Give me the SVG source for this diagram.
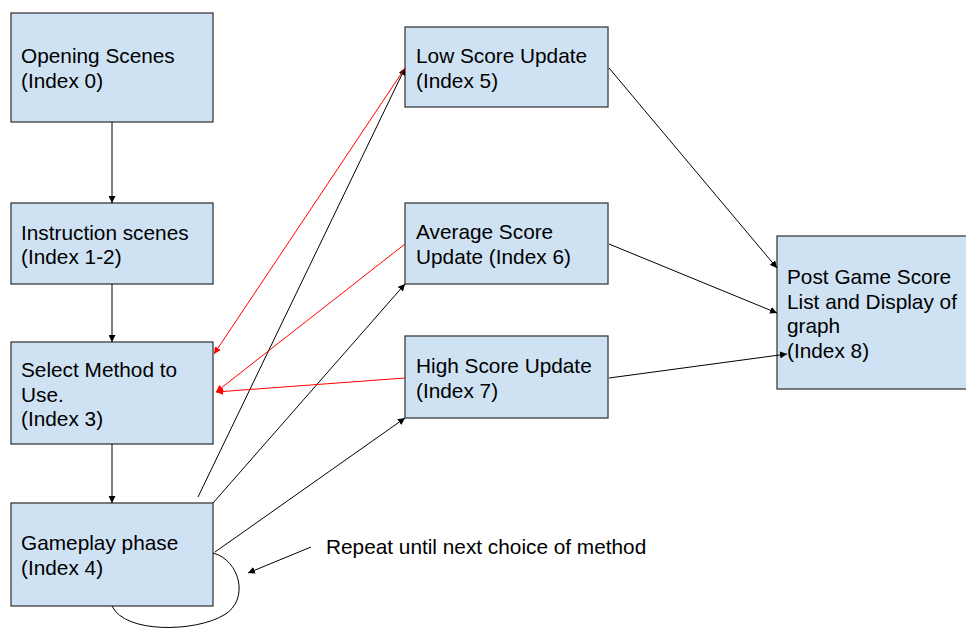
<svg xmlns="http://www.w3.org/2000/svg" width="966" height="629" viewBox="0 0 966 629">
  <style>
    .box rect { fill: #cfe2f3; stroke: #3c3c3c; stroke-width: 1.3; }
    text { font-family: "Liberation Sans", Arial, sans-serif; font-size: 20.8px; fill: #000; }
    .edge { fill: none; stroke: #000; stroke-width: 1; }
    .red { fill: none; stroke: #ff0000; stroke-width: 1; }
  </style>
  <defs>
    <marker id="arrow" viewBox="0 0 10 10" refX="10" refY="5" markerWidth="7" markerHeight="7" markerUnits="userSpaceOnUse" orient="auto">
      <path d="M0,0 L10,5 L0,10 z" fill="#000"/>
    </marker>
    <marker id="arrowRed" viewBox="0 0 10 10" refX="10" refY="5" markerWidth="7" markerHeight="7" markerUnits="userSpaceOnUse" orient="auto">
      <path d="M0,0 L10,5 L0,10 z" fill="#ff0000"/>
    </marker>
  </defs>

  <g id="opening" class="box">
    <rect x="11" y="13" width="202" height="109"/>
    <text x="21" y="63">Opening Scenes</text>
    <text x="21" y="88">(Index 0)</text>
  </g>
  <g id="instruction" class="box">
    <rect x="11" y="203" width="202" height="81"/>
    <text x="21" y="239.5">Instruction scenes</text>
    <text x="21" y="264">(Index 1-2)</text>
  </g>
  <g id="select" class="box">
    <rect x="11" y="342" width="202" height="102"/>
    <text x="21" y="377">Select Method to</text>
    <text x="21" y="401.5">Use.</text>
    <text x="21" y="426">(Index 3)</text>
  </g>
  <g id="gameplay" class="box">
    <rect x="11" y="503" width="202" height="103"/>
    <text x="21" y="550">Gameplay phase</text>
    <text x="21" y="575">(Index 4)</text>
  </g>
  <g id="low" class="box">
    <rect x="405" y="27" width="203" height="80"/>
    <text x="416" y="63">Low Score Update</text>
    <text x="416" y="88">(Index 5)</text>
  </g>
  <g id="average" class="box">
    <rect x="405" y="203" width="203" height="81"/>
    <text x="416" y="239">Average Score</text>
    <text x="416" y="264">Update (Index 6)</text>
  </g>
  <g id="high" class="box">
    <rect x="405" y="336" width="203" height="82"/>
    <text x="416" y="373">High Score Update</text>
    <text x="416" y="397.5">(Index 7)</text>
  </g>
  <g id="post" class="box">
    <rect x="777" y="236" width="195" height="153"/>
    <text x="787" y="284">Post Game Score</text>
    <text x="787" y="308.5">List and Display of</text>
    <text x="787" y="333">graph</text>
    <text x="787" y="358">(Index 8)</text>
  </g>

  <g id="note">
    <text x="326" y="554">Repeat until next choice of method</text>
  </g>

  <!-- connectors, drawn over the boxes so heads that reach inside stay visible -->
  <g id="connectors">
    <line class="edge" x1="112" y1="122" x2="112" y2="203" marker-end="url(#arrow)"/>
    <line class="edge" x1="112" y1="284" x2="112" y2="342" marker-end="url(#arrow)"/>
    <line class="edge" x1="112" y1="444" x2="112" y2="503" marker-end="url(#arrow)"/>
    <line class="edge" x1="198" y1="497" x2="405" y2="68" marker-end="url(#arrow)"/>
    <line class="edge" x1="213" y1="503" x2="405" y2="284" marker-end="url(#arrow)"/>
    <line class="edge" x1="215" y1="552" x2="405" y2="418" marker-end="url(#arrow)"/>
    <line class="red" x1="405" y1="68" x2="214" y2="354" marker-end="url(#arrowRed)"/>
    <line class="red" x1="405" y1="244" x2="216" y2="392" marker-end="url(#arrowRed)"/>
    <line class="red" x1="405" y1="378" x2="216" y2="392" marker-end="url(#arrowRed)"/>
    <line class="edge" x1="609" y1="68" x2="777" y2="268" marker-end="url(#arrow)"/>
    <line class="edge" x1="609" y1="244" x2="777" y2="313" marker-end="url(#arrow)"/>
    <line class="edge" x1="609" y1="378" x2="787" y2="354" marker-end="url(#arrow)"/>
    <path class="edge" d="M213,553 C240,560 250,600 224,615 C196,632 125,634 112,606"/>
    <line class="edge" x1="311" y1="547" x2="248" y2="573" marker-end="url(#arrow)"/>
  </g>
</svg>
